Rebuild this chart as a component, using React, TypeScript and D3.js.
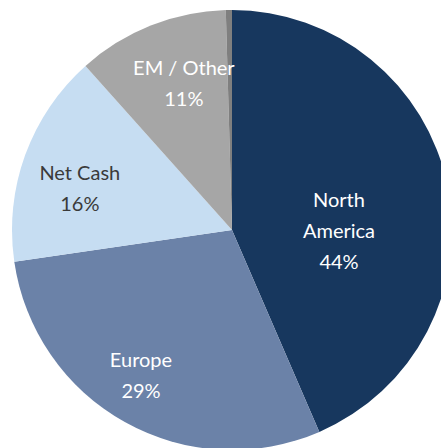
import React from "react";
import * as d3 from "d3";

const categories = ["North America", "Europe", "Net Cash", "EM / Other", "Other (residual)"];
const shares = [43.5, 29.2, 15.7, 11.15, 0.45];
const labelLines = [["North", "America", "44%"], ["Europe", "29%"], ["Net Cash", "16%"], ["EM / Other", "11%"], []];

const colors = ["#17375E", "#6B82A8", "#C6DDF2", "#A6A6A6", "#7F7F7F"];
const textColors = ["#FFFFFF", "#FFFFFF", "#3A3A3A", "#FFFFFF", "#FFFFFF"];
// label placement: radius from centre and angular nudge (degrees) from the slice mid-angle
const labelRadius = [107, 171, 158, 155, 0];
const labelNudge = [11.7, 3, -4.4, 3.6, 0];

const W = 441;
const H = 448;
const CX = 232;
const CY = 230;
const R = 220;
const LINE = 31;
const FONT = 20;

export default function App() {
  const data = categories.map((c, i) => ({ name: c, value: shares[i], idx: i }));
  const pie = d3
    .pie<{ name: string; value: number; idx: number }>()
    .value((d) => d.value)
    .sort(null)
    .startAngle(0)
    .endAngle(2 * Math.PI);
  const arcs = pie(data);
  const arc = d3.arc<d3.PieArcDatum<{ name: string; value: number; idx: number }>>().innerRadius(0).outerRadius(R);

  return (
    <svg
      width={W}
      height={H}
      style={{ position: "absolute", left: 0, top: 0, background: "#fff" }}
      fontFamily="Lato, 'Open Sans', sans-serif"
    >
      <g transform={`translate(${CX},${CY})`}>
        {arcs.map((a, i) => (
          <path key={i} d={arc(a) || ""} fill={colors[i]} />
        ))}
        {arcs.map((a, i) => {
          const lines = labelLines[i];
          if (!lines.length) return null;
          const mid = (a.startAngle + a.endAngle) / 2 + (labelNudge[i] * Math.PI) / 180;
          const x = labelRadius[i] * Math.sin(mid);
          const y = -labelRadius[i] * Math.cos(mid);
          const n = lines.length;
          return (
            <text key={"t" + i} textAnchor="middle" fontSize={FONT} fill={textColors[i]}>
              {lines.map((l, j) => (
                <tspan key={j} x={x} y={y + (j - (n - 1) / 2) * LINE + 8}>
                  {l}
                </tspan>
              ))}
            </text>
          );
        })}
      </g>
    </svg>
  );
}
